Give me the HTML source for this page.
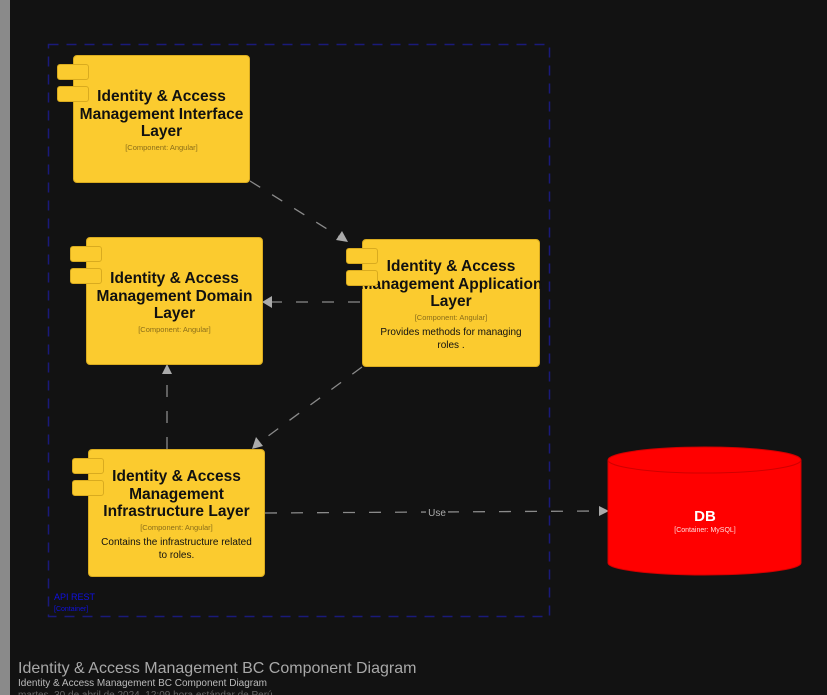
<!DOCTYPE html>
<html><head><meta charset="utf-8"><style>
body{margin:0;width:827px;height:695px;background:#121212;overflow:hidden;position:relative;font-family:"Liberation Sans",sans-serif}
.strip{position:absolute;left:0;top:0;width:10px;height:695px;background:#8a8a8a}
.box{position:absolute;background:#fbcb2f;border:1px solid #d9ab1f;border-radius:4px;box-sizing:border-box;text-align:center;color:#111}
.tab{position:absolute;width:32px;height:16px;background:#fbcb2f;border:1px solid #d9ab1f;border-radius:3px;box-sizing:border-box}
.t{font-weight:bold;font-size:15.5px;line-height:17.5px;font-family:"Liberation Sans",sans-serif}
.s{font-size:7.5px;color:#8a6d1a;margin-top:2px}
.d{font-size:10px;margin-top:4px;line-height:13px}
</style></head><body>
<div class="strip"></div>
<svg width="827" height="695" style="position:absolute;left:0;top:0">
<rect x="48.5" y="44.5" width="501" height="572" fill="none" stroke="#1a1a7a" stroke-width="1.5" stroke-dasharray="10,8"/>
<g stroke="#8a8a8a" stroke-width="1.3" stroke-dasharray="12,14" fill="none">
<line x1="250" y1="181" x2="340" y2="237"/>
<line x1="360" y1="302" x2="272" y2="302"/>
<line x1="362" y1="367" x2="260" y2="442"/>
<line x1="167" y1="449" x2="167" y2="374"/>
<line x1="265" y1="513" x2="600" y2="511"/>
</g>
<g fill="#aaa">
<polygon points="348,242 336,240 342,231"/>
<polygon points="262,302 272,296 272,308"/>
<polygon points="252,449 256,437 263,446"/>
<polygon points="167,364 162,374 172,374"/>
<polygon points="609,511 599,506 599,516"/>
</g>
<rect x="426" y="506" width="22" height="12" fill="#121212"/>
<text x="437" y="516" font-size="10" fill="#aaa" text-anchor="middle">Use</text>
<path d="M608 460 L608 563 A96.5 12 0 0 0 801 563 L801 460" fill="#ff0000" stroke="#d00000"/>
<ellipse cx="704.5" cy="460" rx="96.5" ry="13" fill="#ff0000" stroke="#d00000"/>
<text x="705" y="521" font-size="15" font-weight="bold" fill="#fff" text-anchor="middle">DB</text>
<text x="705" y="532" font-size="7" fill="#fdd" text-anchor="middle">[Container: MySQL]</text>
<text x="54" y="600" font-size="9" fill="#1010e0">API REST</text>
<text x="54" y="611" font-size="7" fill="#1010e0">[Container]</text>
<text x="18" y="673" font-size="16" fill="#a8a8a8">Identity &amp; Access Management BC Component Diagram</text>
<text x="18" y="686" font-size="10" fill="#bbb">Identity &amp; Access Management BC Component Diagram</text>
<text x="18" y="698" font-size="10" fill="#666">martes, 30 de abril de 2024, 12:09 hora estándar de Perú</text>
</svg>

<div class="box" style="left:73px;top:55px;width:177px;height:128px;padding-top:32px"><div class="t">Identity &amp; Access<br>Management Interface<br>Layer</div><div class="s">[Component: Angular]</div></div>
<div class="tab" style="left:57px;top:64px"></div><div class="tab" style="left:57px;top:86px"></div>

<div class="box" style="left:86px;top:237px;width:177px;height:128px;padding-top:32px"><div class="t">Identity &amp; Access<br>Management Domain<br>Layer</div><div class="s">[Component: Angular]</div></div>
<div class="tab" style="left:70px;top:246px"></div><div class="tab" style="left:70px;top:268px"></div>

<div class="box" style="left:362px;top:239px;width:178px;height:128px;padding-top:18px"><div class="t" style="margin:0 -10px">Identity &amp; Access<br>Management Application<br>Layer</div><div class="s">[Component: Angular]</div><div class="d">Provides methods for managing<br>roles .</div></div>
<div class="tab" style="left:346px;top:248px"></div><div class="tab" style="left:346px;top:270px"></div>

<div class="box" style="left:88px;top:449px;width:177px;height:128px;padding-top:18px"><div class="t">Identity &amp; Access<br>Management<br>Infrastructure Layer</div><div class="s">[Component: Angular]</div><div class="d">Contains the infrastructure related<br>to roles.</div></div>
<div class="tab" style="left:72px;top:458px"></div><div class="tab" style="left:72px;top:480px"></div>
</body></html>
